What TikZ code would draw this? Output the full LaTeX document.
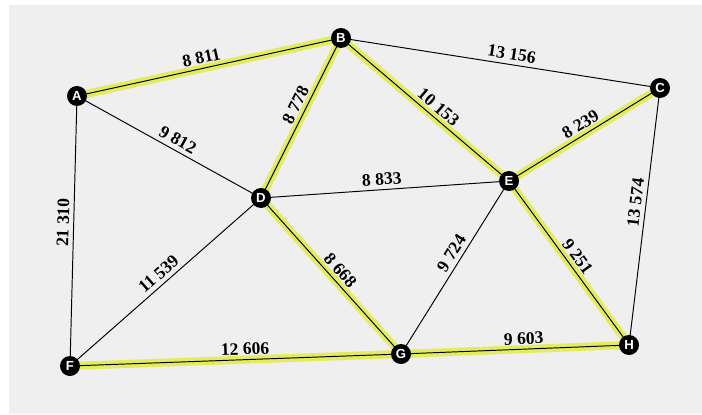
\documentclass[tikz,border=0pt]{standalone}
\usepackage{fontspec}
\setmainfont{Liberation Serif}
\newfontfamily\vertexfont{Liberation Sans}
\usepackage{tikz}
\usetikzlibrary{backgrounds}
\definecolor{bggray}{HTML}{EFEFEF}
\definecolor{glow}{HTML}{E3EC5E}
\tikzset{
  every picture/.style={line join=round, line cap=round},
  vertex/.style={circle, fill=black, text=white, minimum size=0.4cm, inner sep=0pt,
    font=\vertexfont\fontsize{7.5}{8}\selectfont\bfseries},
  edge/.style={line width=0.55pt, black},
  tree/.style={line width=4.6pt, glow},
  weight/.style={sloped, above, inner sep=2.4pt, font=\fontsize{10}{12}\selectfont\bfseries},
}

\begin{document}
\begin{tikzpicture}
\useasboundingbox (0,0) rectangle (14.04,8.28);
% vertices
\node[vertex] (A) at (1.54,6.36) {A};
\node[vertex] (B) at (6.82,7.52) {B};
\node[vertex] (C) at (13.20,6.52) {C};
\node[vertex] (D) at (5.22,4.32) {D};
\node[vertex] (E) at (10.18,4.66) {E};
\node[vertex] (F) at (1.40,0.96) {F};
\node[vertex] (G) at (8.02,1.20) {G};
\node[vertex] (H) at (12.58,1.38) {H};
\begin{scope}[on background layer]
\fill[bggray] (0.18,0) rectangle (14.04,8.18);
% spanning tree glow
\foreach \u/\v in {A/B,D/B,B/E,E/C,D/G,E/H,F/G,G/H}
  \draw[tree] (\u.center) -- (\v.center);
% edges with weights
\draw[edge] (A.center) -- node[weight,pos=0.48] {8 811} (B.center);
\draw[edge] (B.center) -- node[weight,pos=0.53] {13 156} (C.center);
\draw[edge] (B.center) -- node[weight,pos=0.54] {10 153} (E.center);
\draw[edge] (D.center) -- node[weight,pos=0.55] {8 778} (B.center);
\draw[edge] (A.center) -- node[weight,pos=0.52] {9 812} (D.center);
\draw[edge] (D.center) -- node[weight,pos=0.49] {8 833} (E.center);
\draw[edge] (F.center) -- node[weight,pos=0.53] {21 310} (A.center);
\draw[edge] (F.center) -- node[weight,pos=0.50] {11 539} (D.center);
\draw[edge] (D.center) -- node[weight,pos=0.51] {8 668} (G.center);
\draw[edge] (G.center) -- node[weight,pos=0.55] {9 724} (E.center);
\draw[edge] (E.center) -- node[weight,pos=0.51] {8 239} (C.center);
\draw[edge] (H.center) -- node[weight,pos=0.55] {13 574} (C.center);
\draw[edge] (E.center) -- node[weight,pos=0.50] {9 251} (H.center);
\draw[edge] (F.center) -- node[weight,pos=0.53] {12 606} (G.center);
\draw[edge] (G.center) -- node[weight,pos=0.54] {9 603} (H.center);
\end{scope}
\end{tikzpicture}
\end{document}
